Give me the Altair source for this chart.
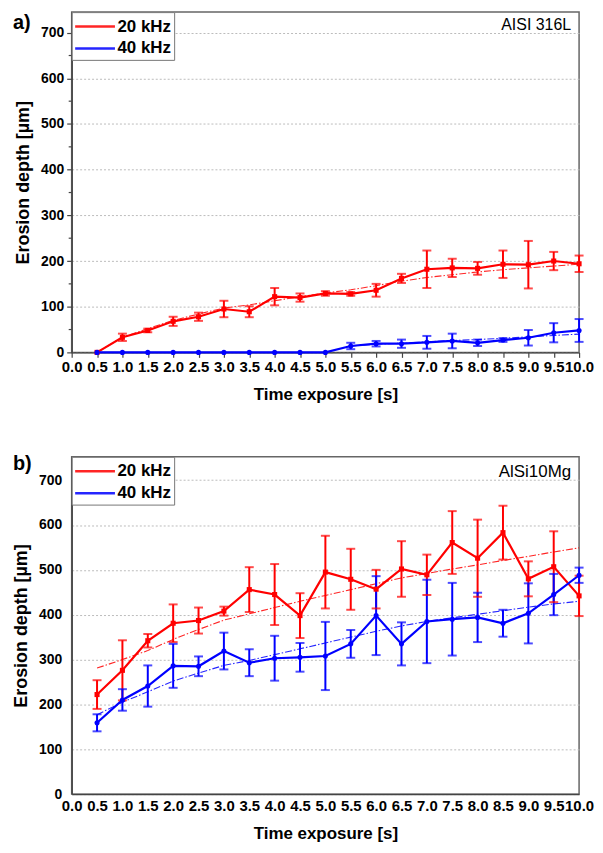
import altair as alt
import pandas as pd
import numpy as np

# ---------------- data ----------------
time_s = [0.5, 1.0, 1.5, 2.0, 2.5, 3.0, 3.5, 4.0, 4.5, 5.0,
          5.5, 6.0, 6.5, 7.0, 7.5, 8.0, 8.5, 9.0, 9.5, 10.0]
series_names = ["20 kHz", "40 kHz"]
series_colors = ["#ff0000", "#0000ff"]
x_ticks = [0.0, 0.5, 1.0, 1.5, 2.0, 2.5, 3.0, 3.5, 4.0, 4.5, 5.0,
           5.5, 6.0, 6.5, 7.0, 7.5, 8.0, 8.5, 9.0, 9.5, 10.0]
y_ticks = [0, 100, 200, 300, 400, 500, 600, 700]
y_minor = [50, 150, 250, 350, 450, 550, 650]

# a) AISI 316L
a_red = [0, 33, 48, 68, 78, 95, 89, 122, 120, 129, 128, 136, 162, 182, 185, 184, 193, 192, 200, 194]
a_red_err = [0, 8, 4, 10, 9, 18, 12, 19, 9, 5, 4, 14, 10, 41, 20, 14, 30, 52, 20, 18]
a_blue = [0, 0, 0, 0, 0, 0, 0, 0, 0, 0, 14, 19, 19, 22, 25, 21, 27, 32, 43, 48]
a_blue_err = [0, 0, 0, 0, 0, 0, 0, 0, 0, 0, 7, 6, 9, 14, 16, 7, 4, 17, 21, 25]
a_red_fit = [0, 33, 52, 70, 84, 97, 104, 113, 122, 130, 137, 146, 156, 164, 170, 176, 181, 185, 189, 193]
a_blue_fit = [None] * 10 + [14, 18, 20, 23, 26, 28, 31, 34, 37, 40]

# b) AlSi10Mg
b_red = [222, 276, 342, 381, 387, 408, 456, 445, 398, 495, 479, 457, 502, 489, 561, 526, 583, 480, 507, 442]
b_red_err = [32, 67, 15, 42, 29, 10, 50, 68, 50, 81, 68, 43, 62, 45, 70, 86, 60, 39, 79, 45]
b_blue = [159, 210, 241, 286, 285, 319, 293, 303, 305, 308, 335, 398, 335, 385, 390, 394, 381, 403, 445, 488]
b_blue_err = [19, 24, 46, 49, 22, 41, 30, 50, 32, 76, 31, 88, 48, 93, 81, 55, 30, 67, 46, 17]
b_red_fit = [281, 300, 320, 345, 367, 388, 402, 416, 430, 443, 456, 469, 482, 492, 502, 511, 521, 530, 540, 549]
b_blue_fit = [177, 205, 228, 252, 270, 287, 298, 311, 324, 337, 350, 363, 375, 385, 393, 401, 409, 417, 424, 430]

FONT = "Liberation Sans"


def make_panel(red, red_err, blue, blue_err, red_fit, blue_fit, tag, tag_y, material,
               mat_y, ymax, red_shape, with_ticks, mat_size, width, height,
               x_label_pad, x_title_pad):
    rows = []
    for name, vals, errs, fit in [(series_names[0], red, red_err, red_fit),
                                  (series_names[1], blue, blue_err, blue_fit)]:
        for t, v, e, f in zip(time_s, vals, errs, fit):
            rows.append({"t": t, "v": v, "e": e, "lo": v - e, "hi": v + e,
                         "fit": (np.nan if f is None else f), "series": name})
    df = pd.DataFrame(rows)

    legend = alt.Legend(title=None, orient="top-left", offset=0,
                        symbolType="M-2,0H2", symbolSize=400, symbolOffset=9,
                        symbolStrokeWidth=2.5, labelFont=FONT,
                        labelFontWeight="bold", labelFontSize=17,
                        labelColor="black", padding=3, rowPadding=2,
                        labelOffset=11, strokeColor="#777",
                        fillColor="white", cornerRadius=0)
    color = alt.Color("series:N", scale=alt.Scale(domain=series_names, range=series_colors),
                      legend=legend)

    xenc = alt.X("t:Q", scale=alt.Scale(domain=[0, 10], nice=False, zero=False),
                 axis=alt.Axis(values=x_ticks, format=".1f", title="Time exposure [s]",
                               labelOverlap=False, labelFlush=False, labelBound=False,
                               grid=False, ticks=with_ticks, labelFontSize=15,
                               labelPadding=x_label_pad, titlePadding=x_title_pad))
    yscale = alt.Scale(domain=[0, ymax], nice=False)
    yenc = alt.Y("v:Q", scale=yscale,
                 axis=alt.Axis(values=y_ticks, title="Erosion depth [µm]", grid=True,
                               ticks=with_ticks, labelPadding=3 if with_ticks else 10,
                               titlePadding=8))

    base = alt.Chart(df)
    fit = base.transform_filter("isValid(datum.fit)").mark_line(
        strokeDash=[7, 2, 1.5, 2], strokeWidth=1.1, opacity=0.85).encode(
        x=xenc, y=alt.Y("fit:Q", scale=yscale), color=color, detail="series:N")
    line = base.mark_line(strokeWidth=2.2).encode(x=xenc, y=yenc, color=color)
    err = base.transform_filter("datum.e > 0").mark_rule(strokeWidth=2).encode(
        x=xenc, y=alt.Y("lo:Q", scale=yscale), y2="hi:Q", color=color)
    cap_lo = base.transform_filter("datum.e > 0").mark_tick(
        orient="horizontal", size=9, thickness=2).encode(
        x=xenc, y=alt.Y("lo:Q", scale=yscale), color=color)
    cap_hi = base.transform_filter("datum.e > 0").mark_tick(
        orient="horizontal", size=9, thickness=2).encode(
        x=xenc, y=alt.Y("hi:Q", scale=yscale), color=color)
    pts = base.mark_point(filled=True, size=26, opacity=1).encode(
        x=xenc, y=alt.Y("v:Q", scale=yscale), color=color,
        shape=alt.Shape("series:N", scale=alt.Scale(domain=series_names,
                                                    range=[red_shape, "circle"]),
                        legend=None))

    tag_df = pd.DataFrame({"label": [tag]})
    tag_txt = alt.Chart(tag_df).mark_text(
        font=FONT, fontWeight="bold", fontSize=20, align="left", baseline="alphabetic",
        color="black").encode(x=alt.value(-59), y=alt.value(tag_y), text="label:N")
    mat_df = pd.DataFrame({"label": [material]})
    mat_txt = alt.Chart(mat_df).mark_text(
        font=FONT, fontSize=mat_size, align="right", baseline="alphabetic",
        color="black").encode(x=alt.value(width - 8), y=alt.value(mat_y), text="label:N")

    layers = [fit, line, err, cap_lo, cap_hi, pts, tag_txt, mat_txt]
    if with_ticks:
        minor_df = pd.DataFrame({"m": y_minor})
        minor = alt.Chart(minor_df).mark_rule(color="#444", strokeWidth=1.2).encode(
            y=alt.Y("m:Q", scale=yscale), x=alt.value(-3), x2=alt.value(0))
        layers.append(minor)
    return alt.layer(*layers).properties(width=width, height=height)


top = make_panel(a_red, a_red_err, a_blue, a_blue_err, a_red_fit, a_blue_fit,
                 "a)", 17, "AISI 316L", 18, 745, "square", True, 16, 510, 342, 2, 12)
bottom = make_panel(b_red, b_red_err, b_blue, b_blue_err, b_red_fit, b_blue_fit,
                    "b)", 13, "AlSi10Mg", 20, 752, "circle", False, 17, 510, 339, 4, 13)

chart = alt.vconcat(top, bottom, spacing=50).resolve_legend(color="independent").properties(
    padding={"left": 3, "top": 0, "right": 0, "bottom": 0}
).configure_view(stroke="#666", strokeWidth=1.5).configure_axis(
    labelFont=FONT, labelFontWeight="bold", labelFontSize=14, labelColor="black",
    titleFont=FONT, titleFontWeight="bold", titleFontSize=18, titleColor="black",
    domainColor="#444", domainWidth=1.5, tickColor="#444", tickWidth=1.2, tickSize=5,
    gridColor="#bbb", gridDash=[2, 2], gridWidth=1
).configure_axisX(titleFontSize=17)

chart.save("out.html", embed_options={"renderer": "svg", "actions": False})
